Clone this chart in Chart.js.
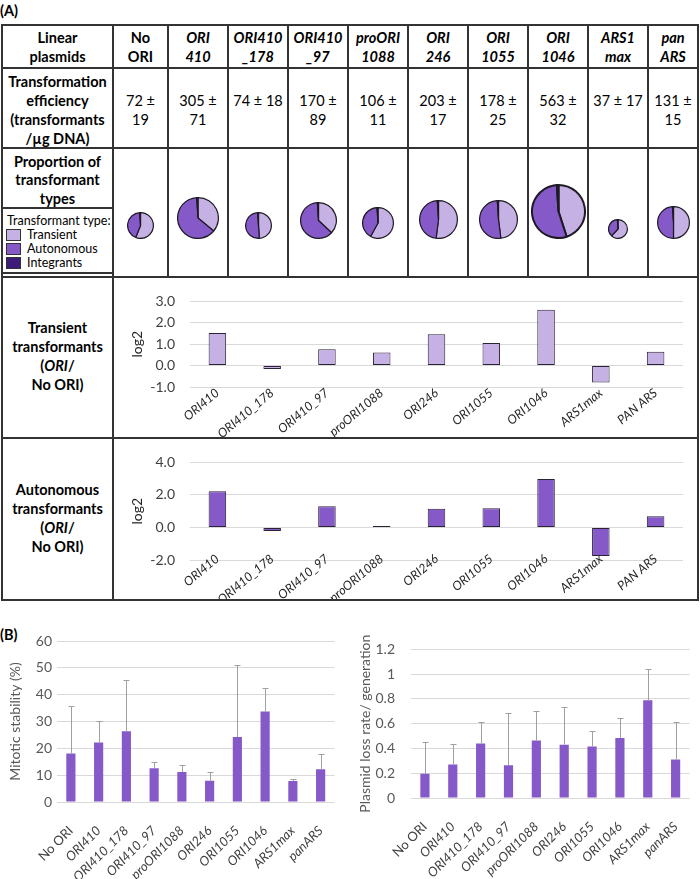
<!DOCTYPE html>
<html>
<head>
<meta charset="utf-8">
<script src="https://cdn.jsdelivr.net/npm/chart.js@4/dist/chart.umd.min.js"></script>
<style>
  body { margin:0; width:700px; height:879px; background:#fff; position:relative; overflow:hidden;
         font-family: Lato, "Liberation Sans", sans-serif; color:#000; }
  .ln { position:absolute; background:#333; }
  .tx { position:absolute; text-align:center; font-size:14.5px; line-height:19px; white-space:nowrap; }
  .b { font-weight:bold; }
  .bi { font-weight:bold; font-style:italic; }
  canvas { position:absolute; }
  .legend { position:absolute; left:1px; top:207px; width:109px; height:63px; border:2px solid #333; background:#fff;
            font-size:12.5px; line-height:14px; }
  .legend div { position:absolute; left:24px; white-space:nowrap; }
  .legend span { position:absolute; left:3px; width:13px; height:10px; border:1px solid #333; }
</style>
</head>
<body>
<script>
// ---------------- data ----------------
const plasmidHeader = [["No", "ORI"], ["ORI", "410"], ["ORI410", "_178"], ["ORI410", "_97"], ["proORI", "1088"],
                       ["ORI", "246"], ["ORI", "1055"], ["ORI", "1046"], ["ARS1", "max"], ["pan", "ARS"]];
const effMean = [72, 305, 74, 170, 106, 203, 178, 563, 37, 131];
const effSd = [19, 71, 18, 89, 11, 17, 25, 32, 17, 15];

// pie proportions (transient / autonomous / integrants)
const pieTransient = [0.56, 0.36, 0.49, 0.37, 0.58, 0.52, 0.48, 0.45, 0.62, 0.50];
const pieAutonomous = [0.43, 0.63, 0.50, 0.62, 0.41, 0.47, 0.51, 0.54, 0.37, 0.49];
const pieIntegrants = [0.01, 0.01, 0.01, 0.01, 0.01, 0.01, 0.01, 0.01, 0.01, 0.01];

const ratioLabels = ["ORI410", "ORI410_178", "ORI410_97", "proORI1088", "ORI246", "ORI1055", "ORI1046", "ARS1max", "PAN ARS"];
const transientLog2 = [1.52, -0.16, 0.76, 0.61, 1.47, 1.06, 2.61, -0.79, 0.65];
const autonomousLog2 = [2.22, -0.22, 1.31, 0.09, 1.15, 1.18, 2.98, -1.76, 0.69];

const stabilityLabels = ["No ORI", "ORI410", "ORI410_178", "ORI410_97", "proORI1088", "ORI246", "ORI1055", "ORI1046", "ARS1max", "panARS"];
const mitoticStability = [18.1, 22.2, 26.4, 12.6, 11.2, 7.9, 24.2, 33.7, 7.8, 12.2];
const mitoticErrTop = [35.7, 30.2, 45.3, 14.8, 13.8, 11.0, 51.2, 42.4, 8.7, 18.0];
const lossRate = [0.195, 0.27, 0.44, 0.265, 0.465, 0.43, 0.415, 0.485, 0.79, 0.31];
const lossErrTop = [0.45, 0.44, 0.61, 0.69, 0.70, 0.735, 0.54, 0.645, 1.04, 0.61];

// ---------------- layout ----------------
const colX = [2, 113, 168, 228, 288, 348, 408, 468, 528, 588, 648, 698];
const rowY = [25, 68, 148, 277, 438, 600];
const pieRadius = [12.3, 20, 12.3, 17.5, 15, 18.3, 18.5, 26.5, 9, 15.5];

const LIGHT = "#C5B1E3", MID = "#8659C8", DARK = "#3D1B78", EDGE = "#2B2238";

function line(x, y, w, h) {
    const d = document.createElement("div");
    d.className = "ln";
    d.style.cssText = `left:${x}px;top:${y}px;width:${w}px;height:${h}px`;
    document.body.appendChild(d);
}
function text(html, left, top, width, cls) {
    const d = document.createElement("div");
    d.className = "tx " + (cls || "");
    d.style.cssText = `left:${left}px;top:${top}px;width:${width}px`;
    d.innerHTML = html;
    document.body.appendChild(d);
    return d;
}
function canvas(left, top, w, h) {
    const c = document.createElement("canvas");
    c.width = w; c.height = h;
    c.style.left = left + "px"; c.style.top = top + "px";
    document.body.appendChild(c);
    return c;
}

// ---------------- table ----------------
text("(A)", 0, 1, 24, "b").style.textAlign = "left";
text("(B)", 0, 625, 24, "b").style.textAlign = "left";

rowY.forEach(y => line(colX[0] - 1, y - 1, colX[11] - colX[0] + 2, 2));
[colX[0], colX[1], colX[11]].forEach(x => line(x - 1, rowY[0] - 1, 2, rowY[5] - rowY[0] + 2));
colX.slice(2, 11).forEach(x => line(x - 1, rowY[0] - 1, 2, rowY[3] - rowY[0] + 2));

const w0 = colX[1] - colX[0];
text("Linear<br>plasmids", colX[0], 27.5, w0, "b");
text("Transformation<br>efficiency<br>(transformants<br>/µg DNA)", colX[0], 71.5, w0, "b");
const prop = text("Proportion of<br>transformant<br>types", colX[0], 152.5, w0, "b");
prop.style.lineHeight = "18.5px";
text("Transient<br>transformants<br>(<i>ORI</i>/<br>No ORI)", colX[0], 317.5, w0, "b");
text("Autonomous<br>transformants<br>(<i>ORI</i>/<br>No ORI)", colX[0], 479.5, w0, "b");

plasmidHeader.forEach((h, i) => {
    const l = colX[i + 1], w = colX[i + 2] - colX[i + 1];
    text(h[0] + "<br>" + h[1], l, 27.5, w, i === 0 ? "b" : "bi");
    const oneLine = (String(effMean[i]) + effSd[i]).length <= 4 && w >= 60;
    const s = oneLine ? `${effMean[i]} ± ${effSd[i]}` : `${effMean[i]} ±<br>${effSd[i]}`;
    text(s, l, 90.5, w, "");
});

// legend box
const lg = document.createElement("div");
lg.className = "legend";
lg.innerHTML =
    '<div style="left:4px;top:5px">Transformant type:</div>' +
    `<span style="top:20px;background:${LIGHT}"></span><div style="top:19px">Transient</div>` +
    `<span style="top:34px;background:${MID}"></span><div style="top:33px">Autonomous</div>` +
    `<span style="top:48px;background:${DARK}"></span><div style="top:47px">Integrants</div>`;
document.body.appendChild(lg);

// ---------------- charts ----------------
Chart.defaults.font.family = 'Lato, "Liberation Sans", sans-serif';
Chart.defaults.animation = false;
Chart.defaults.responsive = false;
Chart.defaults.devicePixelRatio = 1;
Chart.defaults.plugins.legend.display = false;
Chart.defaults.plugins.tooltip.enabled = false;

// pies
plasmidHeader.forEach((h, i) => {
    const r = pieRadius[i];
    const cx = (colX[i + 1] + colX[i + 2]) / 2;
    const cy = 238 - r;
    const size = Math.ceil(2 * r + 2);
    const c = canvas(Math.round(cx - size / 2), Math.round(cy - size / 2), size, size);
    new Chart(c, {
        type: "pie",
        data: {
            labels: ["Transient", "Autonomous", "Integrants"],
            datasets: [{
                data: [pieTransient[i], pieAutonomous[i], pieIntegrants[i]],
                backgroundColor: [LIGHT, MID, DARK],
                borderColor: "#1E1A24",
                borderWidth: r > 20 ? 2 : 1.2
            }]
        },
        options: { layout: { padding: 0 } }
    });
});

// ratio bar charts (log2 ORI / No ORI); category labels hang from the zero line
function ratioChart(top, height, values, fill, min, max, step, padBottom, padTop, labelPad) {
    const c = canvas(114, top, 583, height);
    new Chart(c, {
        type: "bar",
        data: {
            labels: ratioLabels,
            datasets: [{
                data: values,
                backgroundColor: fill,
                borderColor: EDGE,
                borderWidth: 1,
                borderSkipped: false,
                barPercentage: 0.32,
                categoryPercentage: 1
            }]
        },
        options: {
            layout: { padding: { top: padTop, right: 14, left: 0, bottom: padBottom } },
            scales: {
                x: {
                    position: { y: 0 },
                    grid: { display: false },
                    border: { display: false },
                    ticks: { font: { size: 12.5, style: "italic" }, color: "#262626", minRotation: 40, maxRotation: 40,
                             padding: labelPad, autoSkip: false }
                },
                y: {
                    min: min, max: max,
                    ticks: { stepSize: step, callback: v => v.toFixed(1), font: { size: 14 }, color: "#404040", padding: 15 },
                    grid: { color: "#D9D9D9", drawTicks: false },
                    border: { display: false },
                    title: { display: true, text: "log2", font: { size: 14 }, color: "#262626", padding: { top: 15, bottom: 0 } },
                    afterFit: s => { s.width = 76; }
                }
            }
        }
    });
}
ratioChart(278, 159, transientLog2, LIGHT, -1, 3, 1, 50, 10.5, 12);
ratioChart(439, 160, autonomousLog2, MID, -2, 4, 2, 39, 11, 16);

// error bars (upper only) for part B
function errorBars(tops) {
    return {
        id: "errorBars",
        afterDatasetsDraw(chart) {
            const ctx = chart.ctx, y = chart.scales.y;
            ctx.save();
            ctx.strokeStyle = "#A0A0A0";
            ctx.lineWidth = 1;
            chart.getDatasetMeta(0).data.forEach((bar, i) => {
                const x = Math.round(bar.x) + 0.5;
                const yt = Math.round(y.getPixelForValue(tops[i])) + 0.5;
                ctx.beginPath();
                ctx.moveTo(x, bar.y);
                ctx.lineTo(x, yt);
                ctx.moveTo(x - 3, yt);
                ctx.lineTo(x + 3, yt);
                ctx.stroke();
            });
            ctx.restore();
        }
    };
}

function stabilityChart(left, width, values, tops, max, step, title, cfg) {
    const c = canvas(left, 625, width, 254);
    new Chart(c, {
        type: "bar",
        data: {
            labels: stabilityLabels,
            datasets: [{ data: values, backgroundColor: MID, barPercentage: 0.33, categoryPercentage: 1 }]
        },
        options: {
            layout: { padding: { top: cfg.padTop, right: 7, left: 0, bottom: 0 } },
            scales: {
                x: {
                    grid: { display: false },
                    border: { display: false },
                    ticks: { font: ctx => ({ size: 13, style: ctx.index === 0 ? "normal" : "italic" }), color: "#404040",
                             minRotation: 45, maxRotation: 45, padding: 13, autoSkip: false },
                    afterFit: s => { s.height = cfg.axisH; }
                },
                y: {
                    min: 0, max: max,
                    ticks: { stepSize: step, callback: v => String(+v.toFixed(1)), font: { size: 14 }, color: "#595959",
                             padding: cfg.tickPad },
                    grid: { color: "#D9D9D9", drawTicks: false },
                    border: { display: false },
                    title: { display: true, text: title, font: { size: 14 }, color: "#595959", padding: { top: cfg.titlePad, bottom: 0 } },
                    afterFit: s => { s.width = cfg.axisW; }
                }
            }
        },
        plugins: [errorBars(tops)]
    });
}
stabilityChart(0, 345, mitoticStability, mitoticErrTop, 60, 10, "Mitotic stability (%)",
    { padTop: 16, axisH: 77, tickPad: 5, titlePad: 7, axisW: 57 });
stabilityChart(345, 355, lossRate, lossErrTop, 1.2, 0.2, "Plasmid loss rate/ generation",
    { padTop: 20, axisH: 81, tickPad: 16, titlePad: 12, axisW: 66 });
</script>
</body>
</html>
